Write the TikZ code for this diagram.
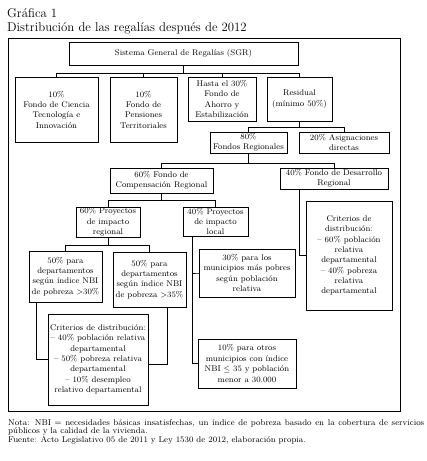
\documentclass[tikz,border=0pt]{standalone}
\usepackage{fontspec}
\usetikzlibrary{positioning,calc}
\newcommand\boxfont{\fontsize{8.3}{10.4}\selectfont}
\newcommand\notefont{\fontsize{8.4}{9}\selectfont}
\newcommand\titfont{\fontsize{12.8}{14}\selectfont}

\begin{document}
\begin{tikzpicture}[x=1bp,y=-1bp,
  box/.style={draw,line width=0.75pt,align=center,inner sep=0pt,font=\boxfont},
  wire/.style={line width=0.75pt}]
\useasboundingbox (0,0) rectangle (426,461);
\node[anchor=base west,inner sep=0pt,font=\titfont] (gtitle) at (7,18) {Gráfica 1};
\node[anchor=base west,inner sep=0pt,font=\titfont] (gsub) at (7,32) {Distribución de las regalías después de 2012};
\draw[wire] (8,38) rectangle (400,411);
\node[box,minimum width=229bp,minimum height=23bp] (sgr) at (183.5,53.5) {Sistema General de Regalías (SGR)};
\node[box,minimum width=83bp,minimum height=65bp] (cti) at (56.5,109.5) {10\%\\Fondo de Ciencia\\Tecnología e\\Innovación};
\node[box,minimum width=67bp,minimum height=65bp] (fpt) at (143.5,109.5) {10\%\\Fondo de\\Pensiones\\Territoriales};
\node[box,minimum width=68bp,minimum height=44bp] (fae) at (222,99) {Hasta el 30\%\\Fondo de\\Ahorro y\\Estabilización};
\node[box,minimum width=65bp,minimum height=44bp] (resid) at (299.5,99) {Residual\\(mínimo 50\%)};
\node[box,minimum width=77bp,minimum height=21bp] (freg) at (248.5,142.5) {80\%\\Fondos Regionales};
\node[box,minimum width=90bp,minimum height=21bp] (adir) at (344,142.5) {20\% Asignaciones\\directas};
\node[box,minimum width=103bp,minimum height=25bp] (fcr) at (161.5,180.5) {60\% Fondo de\\Compensación Regional};
\node[box,minimum width=108bp,minimum height=21bp] (fdr) at (334,178.5) {40\% Fondo de Desarrollo\\Regional};
\node[box,minimum width=86bp,minimum height=109bp] (critdr) at (349,255.5) {Criterios de\\distribución:\\– 60\% población\\relativa\\departamental\\– 40\% pobreza\\relativa\\departamental};
\node[box,minimum width=64bp,minimum height=30bp] (preg) at (108,222) {60\% Proyectos\\de impacto\\regional};
\node[box,minimum width=65bp,minimum height=29bp] (ploc) at (215.5,221.5) {40\% Proyectos\\de impacto\\local};
\node[box,minimum width=73bp,minimum height=51bp] (dep30) at (65.5,276.5) {50\% para\\departamentos\\según índice NBI\\de pobreza >30\%};
\node[box,minimum width=73bp,minimum height=55bp] (dep35) at (149.5,279.5) {50\% para\\departamentos\\según índice NBI\\de pobreza >35\%};
\node[box,minimum width=100bp,minimum height=91bp] (critfcr) at (98,359.5) {Criterios de distribución:\\– 40\% población relativa\\departamental\\– 50\% pobreza relativa\\departamental\\– 10\% desempleo\\relativo departamental};
\node[box,minimum width=96bp,minimum height=48bp] (mun30) at (247,273) {30\% para los\\municipios más pobres\\según población\\relativa};
\node[box,minimum width=98bp,minimum height=49bp] (mun10) at (247,363.5) {10\% para otros\\municipios con índice\\NBI $\le$ 35 y población\\menor a 30.000};
\coordinate (bus1) at (0,73);
\coordinate (bus2) at (0,127);
\coordinate (bus3) at (0,163);
\coordinate (bus4) at (0,200);
\coordinate (bus5) at (0,245);
\draw[wire] (sgr.south) -- (sgr.south |- bus1);
\draw[wire] (cti.north) -- (cti.north |- bus1) -- (resid.north |- bus1) -- (resid.north);
\draw[wire] (fpt.north) -- (fpt.north |- bus1);
\draw[wire] (fae.north) -- (fae.north |- bus1);
\draw[wire] (resid.south) -- (resid.south |- bus2);
\draw[wire] (freg.north) -- (freg.north |- bus2) -- (adir.north |- bus2) -- (adir.north);
\draw[wire] (freg.south) -- (freg.south |- bus3);
\draw[wire] (fcr.north) -- (fcr.north |- bus3) -- (fdr.north |- bus3) -- (fdr.north);
\draw[wire] ($(fdr.south west)+(20,0)$) |- (critdr.west);
\draw[wire] (fcr.south) -- (fcr.south |- bus4);
\draw[wire] (preg.north) -- (preg.north |- bus4) -- (ploc.north |- bus4) -- (ploc.north);
\draw[wire] (preg.south) -- (preg.south |- bus5);
\draw[wire] (dep30.north) -- (dep30.north |- bus5) -- (dep35.north |- bus5) -- (dep35.north);
\draw[wire] ($(dep30.south west)+(8,0)$) |- (critfcr.west);
\draw[wire] ($(dep35.south east)+(-19,0)$) |- ($(critfcr.east)+(0,5)$);
\draw[wire] ($(ploc.south west)+(10,0)$) |- (mun10.west);
\draw[wire] (mun30.west) -- (mun30.west -| mun10.west) -- ++(-5,0);
\node[anchor=base west,inner sep=0pt,text width=416bp,align=justify,font=\notefont] (nota) at (8,425) {Nota: NBI = necesidades básicas insatisfechas, un índice de pobreza basado en la cobertura de servicios\linebreak públicos y la calidad de la vivienda.\\Fuente: Acto Legislativo 05 de 2011 y Ley 1530 de 2012, elaboración propia.};
\end{tikzpicture}
\end{document}
